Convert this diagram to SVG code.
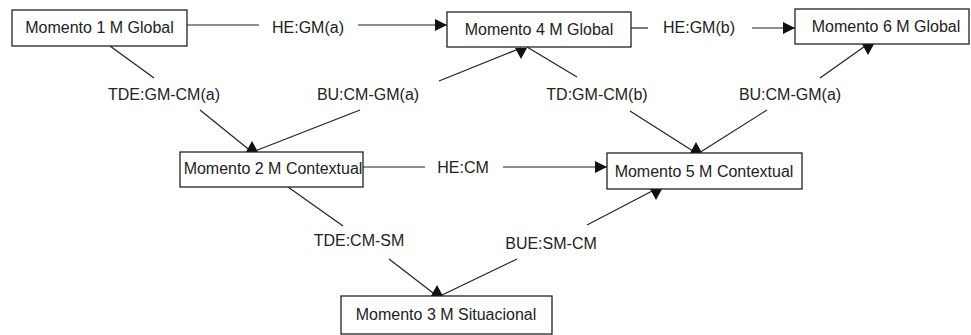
<svg xmlns="http://www.w3.org/2000/svg" width="971" height="335" viewBox="0 0 971 335">
<style>
.box rect{fill:#fff;stroke:#222;stroke-width:1.3}
text{font-family:"Liberation Sans",Arial,sans-serif;font-size:16px;fill:#222;text-anchor:middle}
.conn path{fill:none;stroke:#222;stroke-width:1.2}
.head{fill:#111;stroke:none}
</style>
<defs>
<marker id="tipR" markerUnits="userSpaceOnUse" orient="auto" overflow="visible" markerWidth="12" markerHeight="12" refX="0" refY="0">
<path class="head" d="M-12,-6 L0,0 L-12,6 Z"/>
</marker>
<marker id="capTop" markerUnits="userSpaceOnUse" orient="0" overflow="visible" markerWidth="12" markerHeight="12" refX="0" refY="0">
<path class="head" d="M-6,0 L6,0 L0,-11 Z"/>
</marker>
<marker id="capBottom" markerUnits="userSpaceOnUse" orient="0" overflow="visible" markerWidth="12" markerHeight="12" refX="0" refY="0">
<path class="head" d="M-6,0 L6,0 L0,11 Z"/>
</marker>
</defs>
<rect width="971" height="335" fill="#fff"/>
<g id="connectors" class="conn">
<path d="M187,25 L259,25"/>
<path d="M358,25 L447,25" marker-end="url(#tipR)"/>
<path d="M631,28 L648,28"/>
<path d="M752,28 L795,28" marker-end="url(#tipR)"/>
<path d="M110,46 L154,78"/>
<path d="M200,110 L252,152" marker-end="url(#capTop)"/>
<path d="M255,151 L360,110"/>
<path d="M439,81 L521,48" marker-end="url(#capBottom)"/>
<path d="M527,47 L577,77"/>
<path d="M630,111 L696,153" marker-end="url(#capTop)"/>
<path d="M699,153 L767,110"/>
<path d="M820,78 L868,44" marker-end="url(#capBottom)"/>
<path d="M363,167 L425,167"/>
<path d="M503,167 L607,167" marker-end="url(#tipR)"/>
<path d="M288,187 L343,226"/>
<path d="M389,259 L437,296" marker-end="url(#capTop)"/>
<path d="M440,296 L517,259"/>
<path d="M587,225 L656,189" marker-end="url(#capBottom)"/>
</g>
<g id="labels">
<text x="308" y="33">HE:GM(a)</text>
<text x="699" y="33">HE:GM(b)</text>
<text x="164" y="100">TDE:GM-CM(a)</text>
<text x="368" y="100">BU:CM-GM(a)</text>
<text x="597" y="100">TD:GM-CM(b)</text>
<text x="790" y="100">BU:CM-GM(a)</text>
<text x="463" y="173">HE:CM</text>
<text x="359" y="246">TDE:CM-SM</text>
<text x="551" y="249">BUE:SM-CM</text>
</g>
<g id="m1" class="box"><rect x="12" y="10" width="175" height="36"/><text x="99.5" y="33">Momento 1 M Global</text></g>
<g id="m4" class="box"><rect x="447" y="12" width="184" height="35"/><text x="539" y="34.5">Momento 4 M Global</text></g>
<g id="m6" class="box"><rect x="795" y="9" width="174" height="35"/><text x="886" y="32">Momento 6 M Global</text></g>
<g id="m2" class="box"><rect x="180" y="152" width="183" height="35"/><text x="273" y="174">Momento 2 M Contextual</text></g>
<g id="m5" class="box"><rect x="607" y="153" width="195" height="36"/><text x="704" y="176.5">Momento 5 M Contextual</text></g>
<g id="m3" class="box"><rect x="341" y="296" width="211" height="38"/><text x="446" y="319.5">Momento 3 M Situacional</text></g>
</svg>
